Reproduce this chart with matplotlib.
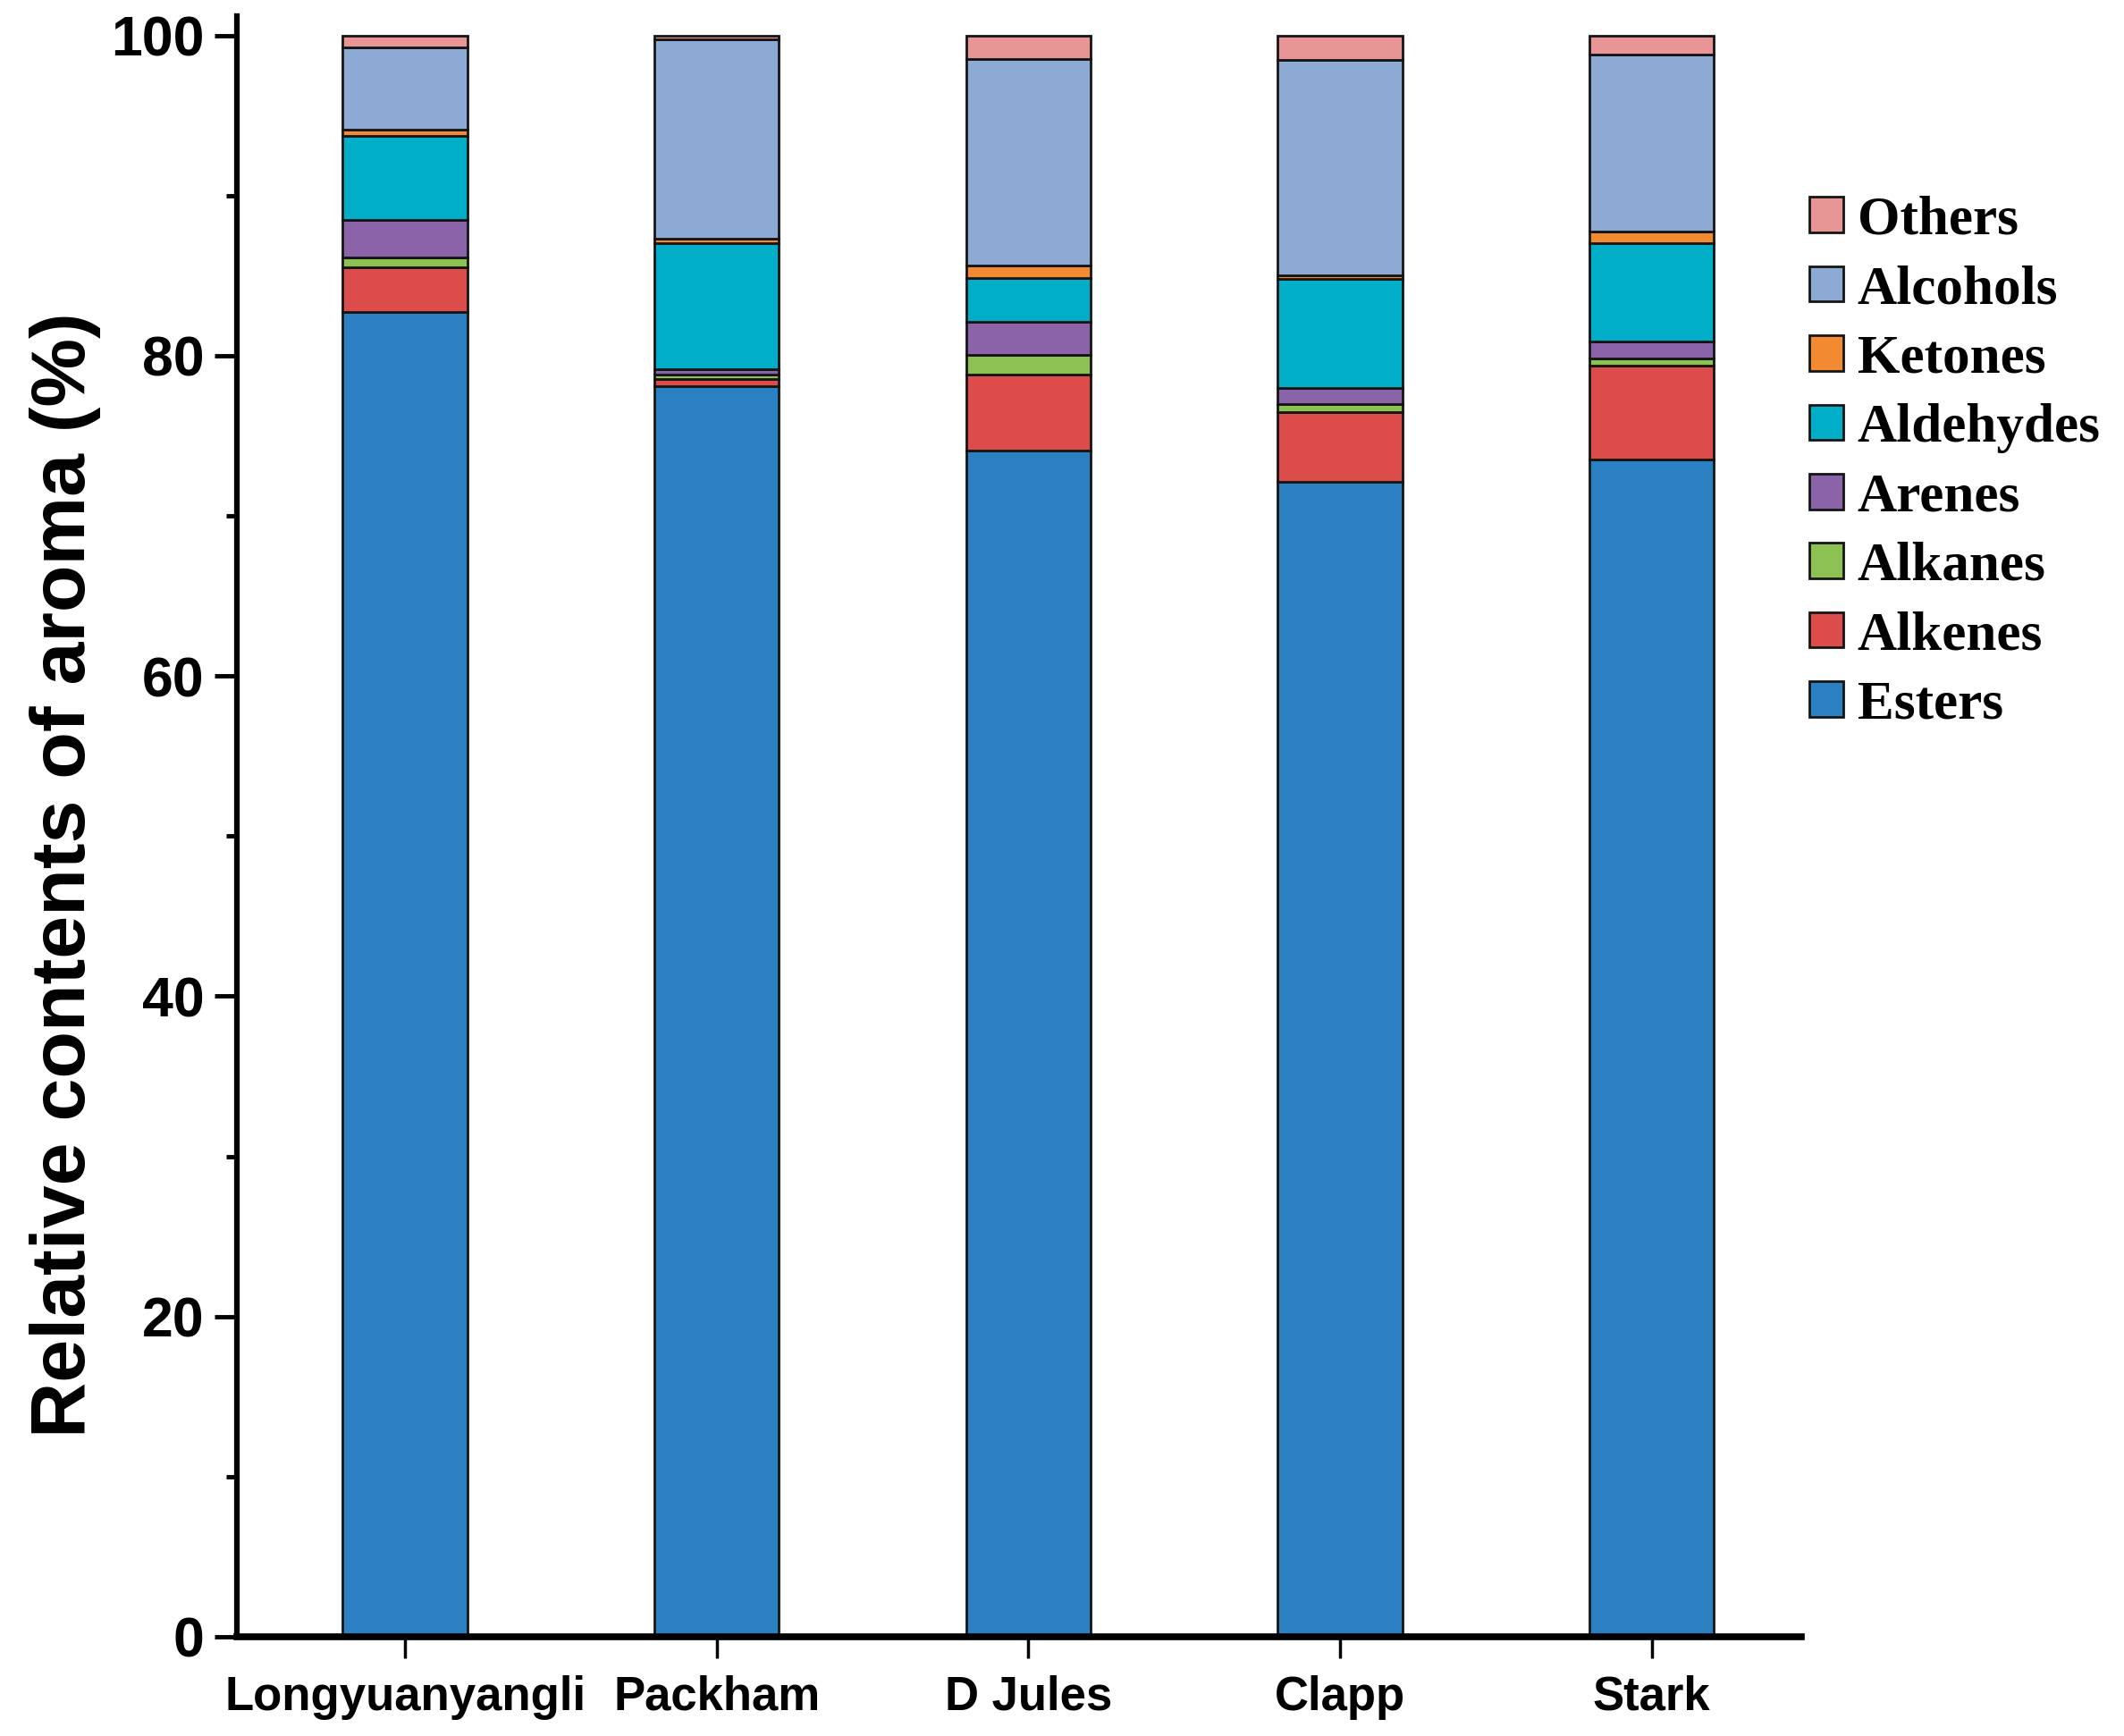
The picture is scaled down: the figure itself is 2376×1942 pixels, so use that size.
import matplotlib.pyplot as plt
import numpy as np
from matplotlib.ticker import MultipleLocator

varieties = ['Longyuanyangli', 'Packham', 'D Jules', 'Clapp', 'Stark']

# relative contents (%) per aroma class, stacked bottom to top
esters = [82.7, 78.1, 74.1, 72.1, 73.5]
alkenes = [2.8, 0.46, 4.7, 4.4, 5.9]
alkanes = [0.65, 0.25, 1.24, 0.5, 0.44]
arenes = [2.33, 0.34, 2.05, 1.0, 1.02]
aldehydes = [5.24, 7.9, 2.73, 6.8, 6.15]
ketones = [0.4, 0.26, 0.8, 0.2, 0.75]
alcohols = [5.12, 12.45, 12.93, 13.45, 11.04]
others = [0.76, 0.24, 1.45, 1.55, 1.2]

series = [
    ('Esters', esters, '#2A80C0'),
    ('Alkenes', alkenes, '#DC4C4B'),
    ('Alkanes', alkanes, '#8DC153'),
    ('Arenes', arenes, '#8A63A8'),
    ('Aldehydes', aldehydes, '#00AEC8'),
    ('Ketones', ketones, '#F28A31'),
    ('Alcohols', alcohols, '#8DAAD4'),
    ('Others', others, '#E89595'),
]

fig = plt.figure(figsize=(23.76, 19.42), dpi=100)
ax = fig.add_axes([0.1115, 0.0572, 0.7365, 0.9335])

x = np.arange(len(varieties))
bottom = np.zeros(len(varieties))
handles = []
for name, vals, color in series:
    b = ax.bar(x, vals, 0.4, bottom=bottom, color=color, edgecolor='#151515',
               linewidth=2.0, label=name, zorder=2)
    handles.append(b)
    bottom += np.array(vals)

ax.set_xlim(-0.54, 4.48)
ax.set_ylim(0, 101.2)
ax.set_xticks(x)
ax.set_xticklabels(varieties, fontsize=38, fontweight='bold',
                   family=['Liberation Sans Narrow', 'Liberation Sans'])
ax.yaxis.set_major_locator(MultipleLocator(20))
ax.yaxis.set_minor_locator(MultipleLocator(10))
for lab in ax.get_yticklabels():
    lab.set_fontsize(45)
    lab.set_fontweight('bold')
    lab.set_family(['Liberation Sans'])

ax.spines['top'].set_visible(False)
ax.spines['right'].set_visible(False)
ax.spines['left'].set_linewidth(4.5)
ax.spines['bottom'].set_linewidth(5.5)
ax.tick_params(axis='y', which='major', direction='out', length=18, width=3.5, pad=8)
ax.tick_params(axis='y', which='minor', direction='out', length=9, width=3.5)
ax.tick_params(axis='x', which='major', direction='out', length=17, width=2.5, pad=14)

ax.set_ylabel('Relative contents of aroma (%)', fontsize=62, fontweight='bold',
              family=['Liberation Sans'])
ax.yaxis.set_label_coords(-0.087, 0.47)

leg = ax.legend(handles[::-1], [s[0] for s in series][::-1],
                loc='upper left', bbox_to_anchor=(0.852, 0.8874),
                bbox_transform=fig.transFigure, frameon=False,
                prop={'family': 'Liberation Serif', 'weight': 'bold', 'size': 44},
                handlelength=0.62, handleheight=0.62, handletextpad=0.25,
                labelspacing=0.35, borderaxespad=0, borderpad=0)

fig.savefig('out.png', dpi=100)
